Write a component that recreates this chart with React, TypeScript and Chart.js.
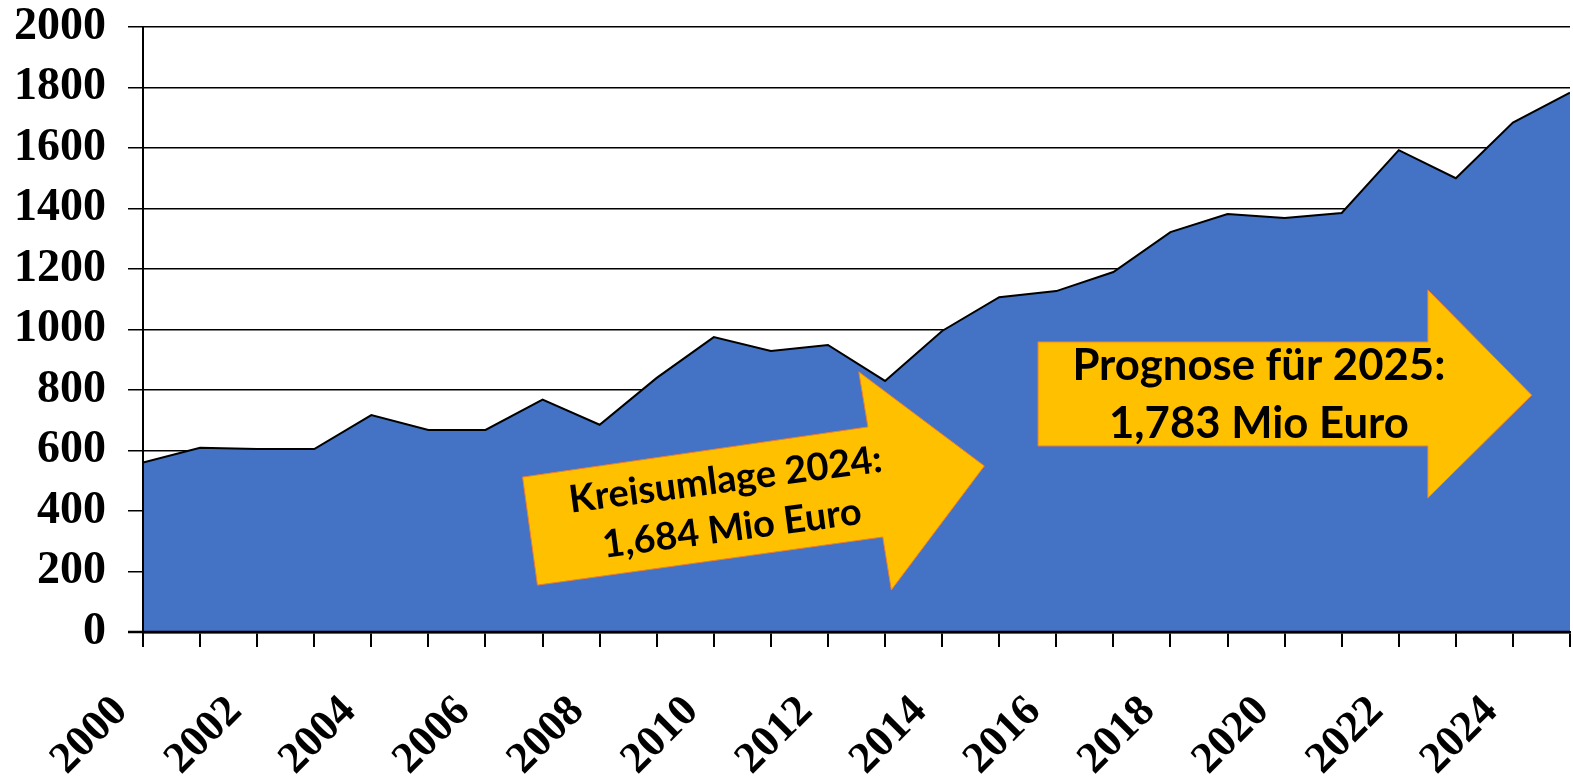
import React, { useEffect, useRef } from 'react';
import { Chart, registerables } from 'chart.js';

Chart.register(...registerables);

const years = [2000, 2001, 2002, 2003, 2004, 2005, 2006, 2007, 2008, 2009, 2010, 2011, 2012, 2013, 2014, 2015, 2016, 2017, 2018, 2019, 2020, 2021, 2022, 2023, 2024, 2025];
const values = [560, 609, 605, 605, 717, 668, 668, 768, 685, 840, 975, 929, 949, 830, 995, 1107, 1127, 1190, 1322, 1382, 1369, 1385, 1593, 1500, 1684, 1783];
const yTicks = [0, 200, 400, 600, 800, 1000, 1200, 1400, 1600, 1800, 2000];

// Annotation arrows (in data coordinates: year, value)
const arrow1X = [2006.65, 2012.70, 2012.54, 2014.74, 2013.11, 2012.96, 2006.91];
const arrow1Y = [512, 678, 860, 549, 139, 314, 155];
const arrow1Lines = ['Kreisumlage 2024:', '1,684 Mio Euro'];
const arrow1Center = [2010.29, 382];

const arrow2X = [2015.68, 2022.51, 2022.51, 2024.33, 2022.51, 2022.51, 2015.68];
const arrow2Y = [959, 959, 1131, 783, 443, 615, 615];
const arrow2Lines = ['Prognose für 2025:', '1,783 Mio Euro'];
const arrow2Center = [2019.55, 737];

const arrowStyle = { fill: '#FFC000', stroke: '#ED7D31', font: 'Lato' };
const arrowText = [
  { angle: -7.5, spacing: 49, width2: 261 },
  { angle: 0, spacing: 58, width2: 300 },
];

const arrowsPlugin = {
  id: 'arrowsPlugin',
  afterDatasetsDraw(chart: any) {
    const { ctx, chartArea, scales } = chart;
    const xs = scales.x;
    const ys = scales.y;
    ctx.save();
    // redraw axis lines on top of the area
    ctx.strokeStyle = '#000';
    ctx.lineWidth = 2.5;
    ctx.beginPath();
    ctx.moveTo(chartArea.left - 15, ys.getPixelForValue(0));
    ctx.lineTo(chartArea.right, ys.getPixelForValue(0));
    ctx.stroke();
    ctx.lineWidth = 2;
    ctx.beginPath();
    ctx.moveTo(chartArea.left, chartArea.top);
    ctx.lineTo(chartArea.left, ys.getPixelForValue(0) + 15);
    ctx.stroke();

    const arrows = [
      { X: arrow1X, Y: arrow1Y, lines: arrow1Lines, c: arrow1Center, t: arrowText[0] },
      { X: arrow2X, Y: arrow2Y, lines: arrow2Lines, c: arrow2Center, t: arrowText[1] },
    ];
    for (const a of arrows) {
      ctx.beginPath();
      a.X.forEach((xv: number, i: number) => {
        const px = xs.getPixelForValue(xv);
        const py = ys.getPixelForValue(a.Y[i]);
        if (i === 0) ctx.moveTo(px, py);
        else ctx.lineTo(px, py);
      });
      ctx.closePath();
      ctx.fillStyle = arrowStyle.fill;
      ctx.fill();
      ctx.strokeStyle = arrowStyle.stroke;
      ctx.lineWidth = 1;
      ctx.stroke();

      // fit font so the second line matches the target width
      ctx.font = `bold 40px ${arrowStyle.font}`;
      const w = ctx.measureText(a.lines[1]).width;
      const size = (40 * a.t.width2) / w;
      ctx.font = `bold ${size.toFixed(1)}px ${arrowStyle.font}`;
      ctx.fillStyle = '#000';
      ctx.textAlign = 'center';
      ctx.textBaseline = 'alphabetic';
      const cx = xs.getPixelForValue(a.c[0]);
      const cy = ys.getPixelForValue(a.c[1]);
      ctx.save();
      ctx.translate(cx, cy);
      ctx.rotate((a.t.angle * Math.PI) / 180);
      ctx.fillText(a.lines[0], 0, -a.t.spacing / 2);
      ctx.fillText(a.lines[1], 0, a.t.spacing / 2);
      ctx.restore();
    }
    ctx.restore();
  },
};

export default function App() {
  const canvasRef = useRef<HTMLCanvasElement | null>(null);

  useEffect(() => {
    if (!canvasRef.current) return;
    const chart = new Chart(canvasRef.current, {
      type: 'line',
      data: {
        datasets: [
          {
            data: years.map((yr, i) => ({ x: yr, y: values[i] })),
            backgroundColor: '#4472C4',
            borderColor: '#000000',
            borderWidth: 2,
            fill: 'origin',
            pointRadius: 0,
            tension: 0,
          },
        ],
      },
      options: {
        animation: false,
        responsive: false,
        layout: { padding: { top: 27, right: 3, bottom: 0, left: 0 } },
        plugins: { legend: { display: false }, tooltip: { enabled: false } },
        scales: {
          x: {
            type: 'linear',
            min: 2000,
            max: 2025,
            ticks: {
              stepSize: 1,
              maxTicksLimit: 40,
              autoSkip: false,
              minRotation: 45,
              maxRotation: 45,
              color: '#000',
              padding: 39,
              labelOffset: -22,
              font: { family: 'Liberation Serif', weight: 'bold', size: 44 },
              callback: (v: any) => (Number(v) % 2 === 0 ? String(v) : ''),
            },
            grid: { drawOnChartArea: false, tickLength: 15, color: '#000', lineWidth: 2 },
            border: { color: '#000', width: 2.5 },
            afterFit: (s: any) => {
              s.height = 150;
              s.paddingLeft = 0;
              s.paddingRight = 0;
              s.paddingTop = 0;
              s.paddingBottom = 0;
            },
          },
          y: {
            min: 0,
            max: 2000,
            afterBuildTicks: (s: any) => {
              s.ticks = yTicks.map((v) => ({ value: v }));
            },
            ticks: {
              color: '#000',
              padding: 22,
              font: { family: 'Liberation Serif', weight: 'bold', size: 46 },
              callback: (v: any) => String(v),
            },
            grid: { color: '#000', lineWidth: 1.5, tickLength: 15 },
            border: { color: '#000', width: 2 },
            afterFit: (s: any) => {
              s.width = 143;
              s.paddingLeft = 0;
              s.paddingRight = 0;
              s.paddingTop = 0;
              s.paddingBottom = 0;
            },
          },
        },
      },
      plugins: [arrowsPlugin],
    });
    return () => chart.destroy();
  }, []);

  return (
    <div style={{ position: 'fixed', left: 0, top: 0, width: 1573, height: 782, background: '#fff' }}>
      <canvas ref={canvasRef} width={1573} height={782} style={{ display: 'block' }} />
    </div>
  );
}
